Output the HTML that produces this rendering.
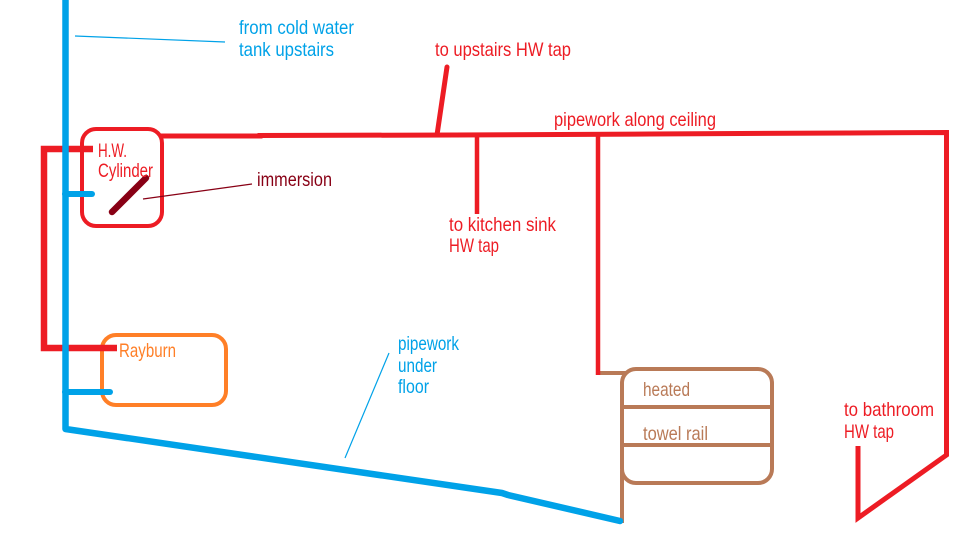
<!DOCTYPE html>
<html>
<head>
<meta charset="utf-8">
<style>
  html, body { margin:0; padding:0; background:#fff; }
  svg { display:block; }
  text { font-family: "Liberation Sans", sans-serif; font-size:19.5px; }
</style>
</head>
<body>
<svg width="971" height="552" viewBox="0 0 971 552" xmlns="http://www.w3.org/2000/svg">
  <rect x="0" y="0" width="971" height="552" fill="#ffffff"/>

  <!-- Rayburn box (orange) -->
  <rect x="102" y="335" width="124" height="70" rx="14" ry="14" fill="none" stroke="#ff7f27" stroke-width="4"/>

  <!-- Towel rail (brown) -->
  <rect x="622" y="369" width="150" height="114" rx="14" ry="14" fill="none" stroke="#b97a57" stroke-width="4"/>
  <line x1="622" y1="407" x2="772" y2="407" stroke="#b97a57" stroke-width="4"/>
  <line x1="622" y1="445" x2="772" y2="445" stroke="#b97a57" stroke-width="4"/>
  <line x1="622" y1="470" x2="622" y2="523" stroke="#b97a57" stroke-width="4"/>
  <line x1="598" y1="373" x2="626" y2="373" stroke="#b97a57" stroke-width="4"/>

  <!-- H.W. Cylinder box -->
  <rect x="82" y="129" width="80" height="97" rx="14" ry="14" fill="none" stroke="#ed1c24" stroke-width="4"/>

  <!-- Red loop cylinder <-> rayburn -->
  <polyline points="93,149 44,149 44,348 117,348" fill="none" stroke="#ed1c24" stroke-width="6.5" stroke-linejoin="miter"/>

  <!-- Ceiling pipework -->
  <polyline points="160,136 260,136 260,135.5 455,135 650,134 848,133 946.5,132.5 946.5,455 858,518 858,446" fill="none" stroke="#ed1c24" stroke-width="5" stroke-linejoin="miter"/>
  <!-- upstairs tap branch -->
  <line x1="447" y1="67" x2="437" y2="135" stroke="#ed1c24" stroke-width="5" stroke-linecap="round"/>
  <!-- kitchen branch -->
  <line x1="477" y1="135" x2="477" y2="214" stroke="#ed1c24" stroke-width="4.5"/>
  <!-- towel rail branch -->
  <line x1="598" y1="134" x2="598" y2="375" stroke="#ed1c24" stroke-width="4.5"/>

  <!-- Immersion rod -->
  <line x1="112" y1="212" x2="146" y2="178" stroke="#880015" stroke-width="6.5" stroke-linecap="round"/>
  <line x1="143" y1="199" x2="252" y2="184" stroke="#880015" stroke-width="1.2"/>

  <!-- Blue cold water -->
  <polyline points="65.5,0 65.5,429 502,493 508,495 620,521" fill="none" stroke="#00a2e8" stroke-width="6.5" stroke-linejoin="round" stroke-linecap="round"/>
  <line x1="65" y1="194" x2="92" y2="194" stroke="#00a2e8" stroke-width="6" stroke-linecap="round"/>
  <line x1="65" y1="392" x2="110" y2="392" stroke="#00a2e8" stroke-width="6" stroke-linecap="round"/>
  <!-- leaders -->
  <line x1="75" y1="36" x2="225" y2="42" stroke="#00a2e8" stroke-width="1.2"/>
  <line x1="389" y1="353" x2="345" y2="458" stroke="#00a2e8" stroke-width="1.2"/>

  <!-- Labels -->
  <g fill="#00a2e8">
    <text x="239" y="34" textLength="115" lengthAdjust="spacingAndGlyphs">from cold water</text>
    <text x="239" y="56" textLength="95" lengthAdjust="spacingAndGlyphs">tank upstairs</text>
    <text x="398" y="350" textLength="61" lengthAdjust="spacingAndGlyphs">pipework</text>
    <text x="398" y="372" textLength="39" lengthAdjust="spacingAndGlyphs">under</text>
    <text x="398" y="393" textLength="31" lengthAdjust="spacingAndGlyphs">floor</text>
  </g>
  <g fill="#ed1c24">
    <text x="435" y="56" textLength="136" lengthAdjust="spacingAndGlyphs">to upstairs HW tap</text>
    <text x="554" y="126" textLength="162" lengthAdjust="spacingAndGlyphs">pipework along ceiling</text>
    <text x="98" y="157" textLength="29" lengthAdjust="spacingAndGlyphs">H.W.</text>
    <text x="98" y="177" textLength="55" lengthAdjust="spacingAndGlyphs">Cylinder</text>
    <text x="449" y="231" textLength="107" lengthAdjust="spacingAndGlyphs">to kitchen sink</text>
    <text x="449" y="252" textLength="50" lengthAdjust="spacingAndGlyphs">HW tap</text>
    <text x="844" y="416" textLength="90" lengthAdjust="spacingAndGlyphs">to bathroom</text>
    <text x="844" y="438" textLength="50" lengthAdjust="spacingAndGlyphs">HW tap</text>
  </g>
  <text x="257" y="186" fill="#880015" textLength="75" lengthAdjust="spacingAndGlyphs">immersion</text>
  <text x="119" y="357" fill="#ff7f27" textLength="57" lengthAdjust="spacingAndGlyphs">Rayburn</text>
  <g fill="#b97a57">
    <text x="643" y="396" textLength="47" lengthAdjust="spacingAndGlyphs">heated</text>
    <text x="643" y="440" textLength="65" lengthAdjust="spacingAndGlyphs">towel rail</text>
  </g>
</svg>
</body>
</html>
